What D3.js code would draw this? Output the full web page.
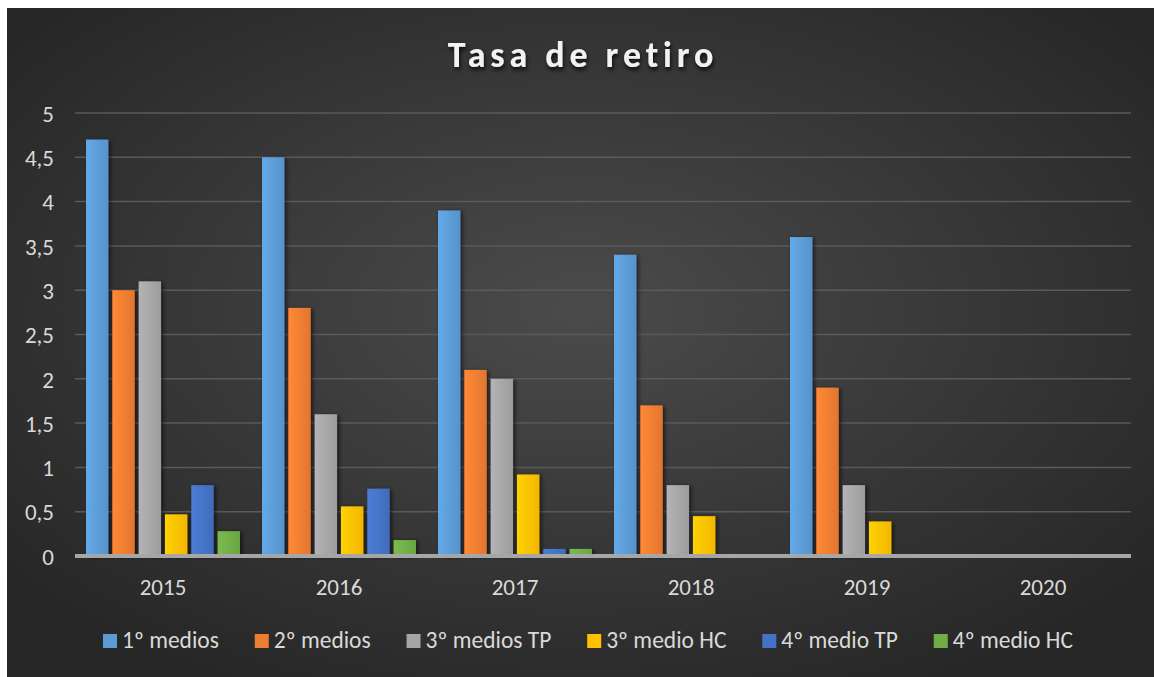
<!DOCTYPE html>
<html>
<head>
<meta charset="utf-8">
<script src="https://cdn.jsdelivr.net/npm/d3@7"></script>
<style>
  html, body { margin: 0; padding: 0; background: #fff; }
  svg { display: block; }
  text { font-family: Carlito, Lato, "Noto Sans", sans-serif; }
</style>
</head>
<body>
<svg id="chart" width="1154" height="677"></svg>
<script>
// Data
let years = ["2015", "2016", "2017", "2018", "2019", "2020"];
let seriesNames = ["1º medios", "2º medios", "3º medios TP", "3º medio HC", "4º medio TP", "4º medio HC"];
let seriesColors = ["#5b9bd5", "#ed7d31", "#a5a5a5", "#ffc000", "#4472c4", "#70ad47"];
let primeroMedios = [4.7, 4.5, 3.9, 3.4, 3.6, 0];
let segundoMedios = [3.0, 2.8, 2.1, 1.7, 1.9, 0];
let terceroTP = [3.1, 1.6, 2.0, 0.8, 0.8, 0];
let terceroHC = [0.47, 0.56, 0.92, 0.45, 0.39, 0];
let cuartoTP = [0.8, 0.76, 0.08, 0, 0, 0];
let cuartoHC = [0.28, 0.18, 0.08, 0, 0, 0];
let yTicks = [0, 0.5, 1, 1.5, 2, 2.5, 3, 3.5, 4, 4.5, 5];

let seriesValues = [primeroMedios, segundoMedios, terceroTP, terceroHC, cuartoTP, cuartoHC];

// Layout
let width = 1154, height = 677;
let frame = { x: 7, y: 8 };
let plot = { left: 75, right: 1131, top: 113, bottom: 556 };
let legendSpan = [103, 1073];

let svg = d3.select("#chart");
let defs = svg.append("defs");

let bg = defs.append("radialGradient")
    .attr("id", "bg")
    .attr("cx", "50%").attr("cy", "45%").attr("r", "65%");
bg.append("stop").attr("offset", "0%").attr("stop-color", "#4b4b4b");
bg.append("stop").attr("offset", "100%").attr("stop-color", "#262626");

let shadow = defs.append("filter").attr("id", "shadow")
    .attr("x", "-30%").attr("y", "-10%").attr("width", "160%").attr("height", "130%");
shadow.append("feDropShadow")
    .attr("dx", 2).attr("dy", 1).attr("stdDeviation", 2)
    .attr("flood-color", "#000").attr("flood-opacity", 0.6);

let titleShadow = defs.append("filter").attr("id", "tshadow")
    .attr("x", "-10%").attr("y", "-30%").attr("width", "120%").attr("height", "160%");
titleShadow.append("feDropShadow")
    .attr("dx", 1).attr("dy", 3).attr("stdDeviation", 2)
    .attr("flood-color", "#000").attr("flood-opacity", 0.8);

// bar gradients, slightly lighter at the left edge
seriesColors.forEach(function (c, i) {
    let g = defs.append("linearGradient").attr("id", "bar" + i)
        .attr("x1", "0%").attr("x2", "100%").attr("y1", "0%").attr("y2", "0%");
    g.append("stop").attr("offset", "0%").attr("stop-color", d3.color(c).brighter(0.25));
    g.append("stop").attr("offset", "100%").attr("stop-color", d3.color(c).darker(0.15));
});

svg.append("rect")
    .attr("x", frame.x).attr("y", frame.y)
    .attr("width", width - frame.x).attr("height", height - frame.y)
    .attr("fill", "url(#bg)");

// Title
svg.append("text")
    .attr("x", 583).attr("y", 67)
    .attr("text-anchor", "middle")
    .attr("fill", "#f2f2f2")
    .attr("font-size", 36)
    .attr("font-weight", "bold")
    .attr("letter-spacing", 4.9)
    .attr("filter", "url(#tshadow)")
    .text("Tasa de retiro");

// Scales
let y = d3.scaleLinear().domain([0, 5]).range([plot.bottom, plot.top]);
let x0 = d3.scaleBand().domain(years).range([plot.left, plot.right])
    .paddingInner(0.125).paddingOuter(0.0625);
let x1 = d3.scaleBand().domain(d3.range(seriesNames.length)).range([0, x0.bandwidth()])
    .paddingInner(0.15);

// Gridlines
svg.append("g")
    .selectAll("line")
    .data(yTicks.filter(function (t) { return t > 0; }))
    .enter()
    .append("line")
    .attr("x1", plot.left).attr("x2", plot.right)
    .attr("y1", function (d) { return y(d); })
    .attr("y2", function (d) { return y(d); })
    .attr("stroke", "#5a5a5a")
    .attr("stroke-width", 1.5);

// Y axis
let yAxis = d3.axisLeft(y)
    .tickValues(yTicks)
    .tickSize(0)
    .tickPadding(0)
    .tickFormat(function (d) { return String(d).replace(".", ","); });
let yg = svg.append("g")
    .attr("transform", "translate(54,0)")
    .call(yAxis);
yg.select(".domain").remove();
yg.selectAll("text")
    .attr("fill", "#d9d9d9")
    .attr("font-size", 23)
    .attr("dy", "0.36em");

// Bars
let groups = svg.append("g")
    .selectAll("g")
    .data(years)
    .enter()
    .append("g")
    .attr("transform", function (d) { return "translate(" + x0(d) + ",0)"; });

groups.selectAll("rect")
    .data(function (d, yi) {
        return seriesValues.map(function (vals, si) { return { s: si, v: vals[yi] }; });
    })
    .enter()
    .append("rect")
    .filter(function (d) { return d.v > 0; })
    .attr("x", function (d) { return x1(d.s); })
    .attr("y", function (d) { return y(d.v); })
    .attr("width", x1.bandwidth())
    .attr("height", function (d) { return y(0) - y(d.v); })
    .attr("fill", function (d) { return "url(#bar" + d.s + ")"; })
    .attr("filter", "url(#shadow)");

// X axis (baseline + labels)
let xAxis = d3.axisBottom(x0).tickSize(0).tickPadding(0);
let xg = svg.append("g")
    .attr("transform", "translate(0," + y(0) + ")")
    .call(xAxis);
xg.select(".domain").remove();
xg.selectAll("text")
    .attr("fill", "#d9d9d9")
    .attr("font-size", 23)
    .attr("dy", "1.7em");

svg.append("line")
    .attr("x1", plot.left).attr("x2", plot.right)
    .attr("y1", y(0)).attr("y2", y(0))
    .attr("stroke", "#a6a6a6")
    .attr("stroke-width", 4);

// Legend
let legend = svg.append("g");
let items = legend.selectAll("g")
    .data(seriesNames)
    .enter()
    .append("g");
items.append("rect")
    .attr("y", 634).attr("width", 14).attr("height", 14)
    .attr("fill", function (d, i) { return seriesColors[i]; });
items.append("text")
    .attr("x", 19).attr("y", 648)
    .attr("fill", "#d9d9d9")
    .attr("font-size", 23.5)
    .text(function (d) { return d; });

let widths = [];
items.each(function () {
    widths.push(19 + d3.select(this).select("text").node().getComputedTextLength());
});
let gap = (legendSpan[1] - legendSpan[0] - d3.sum(widths)) / (widths.length - 1);
let cursor = legendSpan[0];
items.attr("transform", function (d, i) {
    let t = "translate(" + cursor + ",0)";
    cursor += widths[i] + gap;
    return t;
});
</script>
</body>
</html>
